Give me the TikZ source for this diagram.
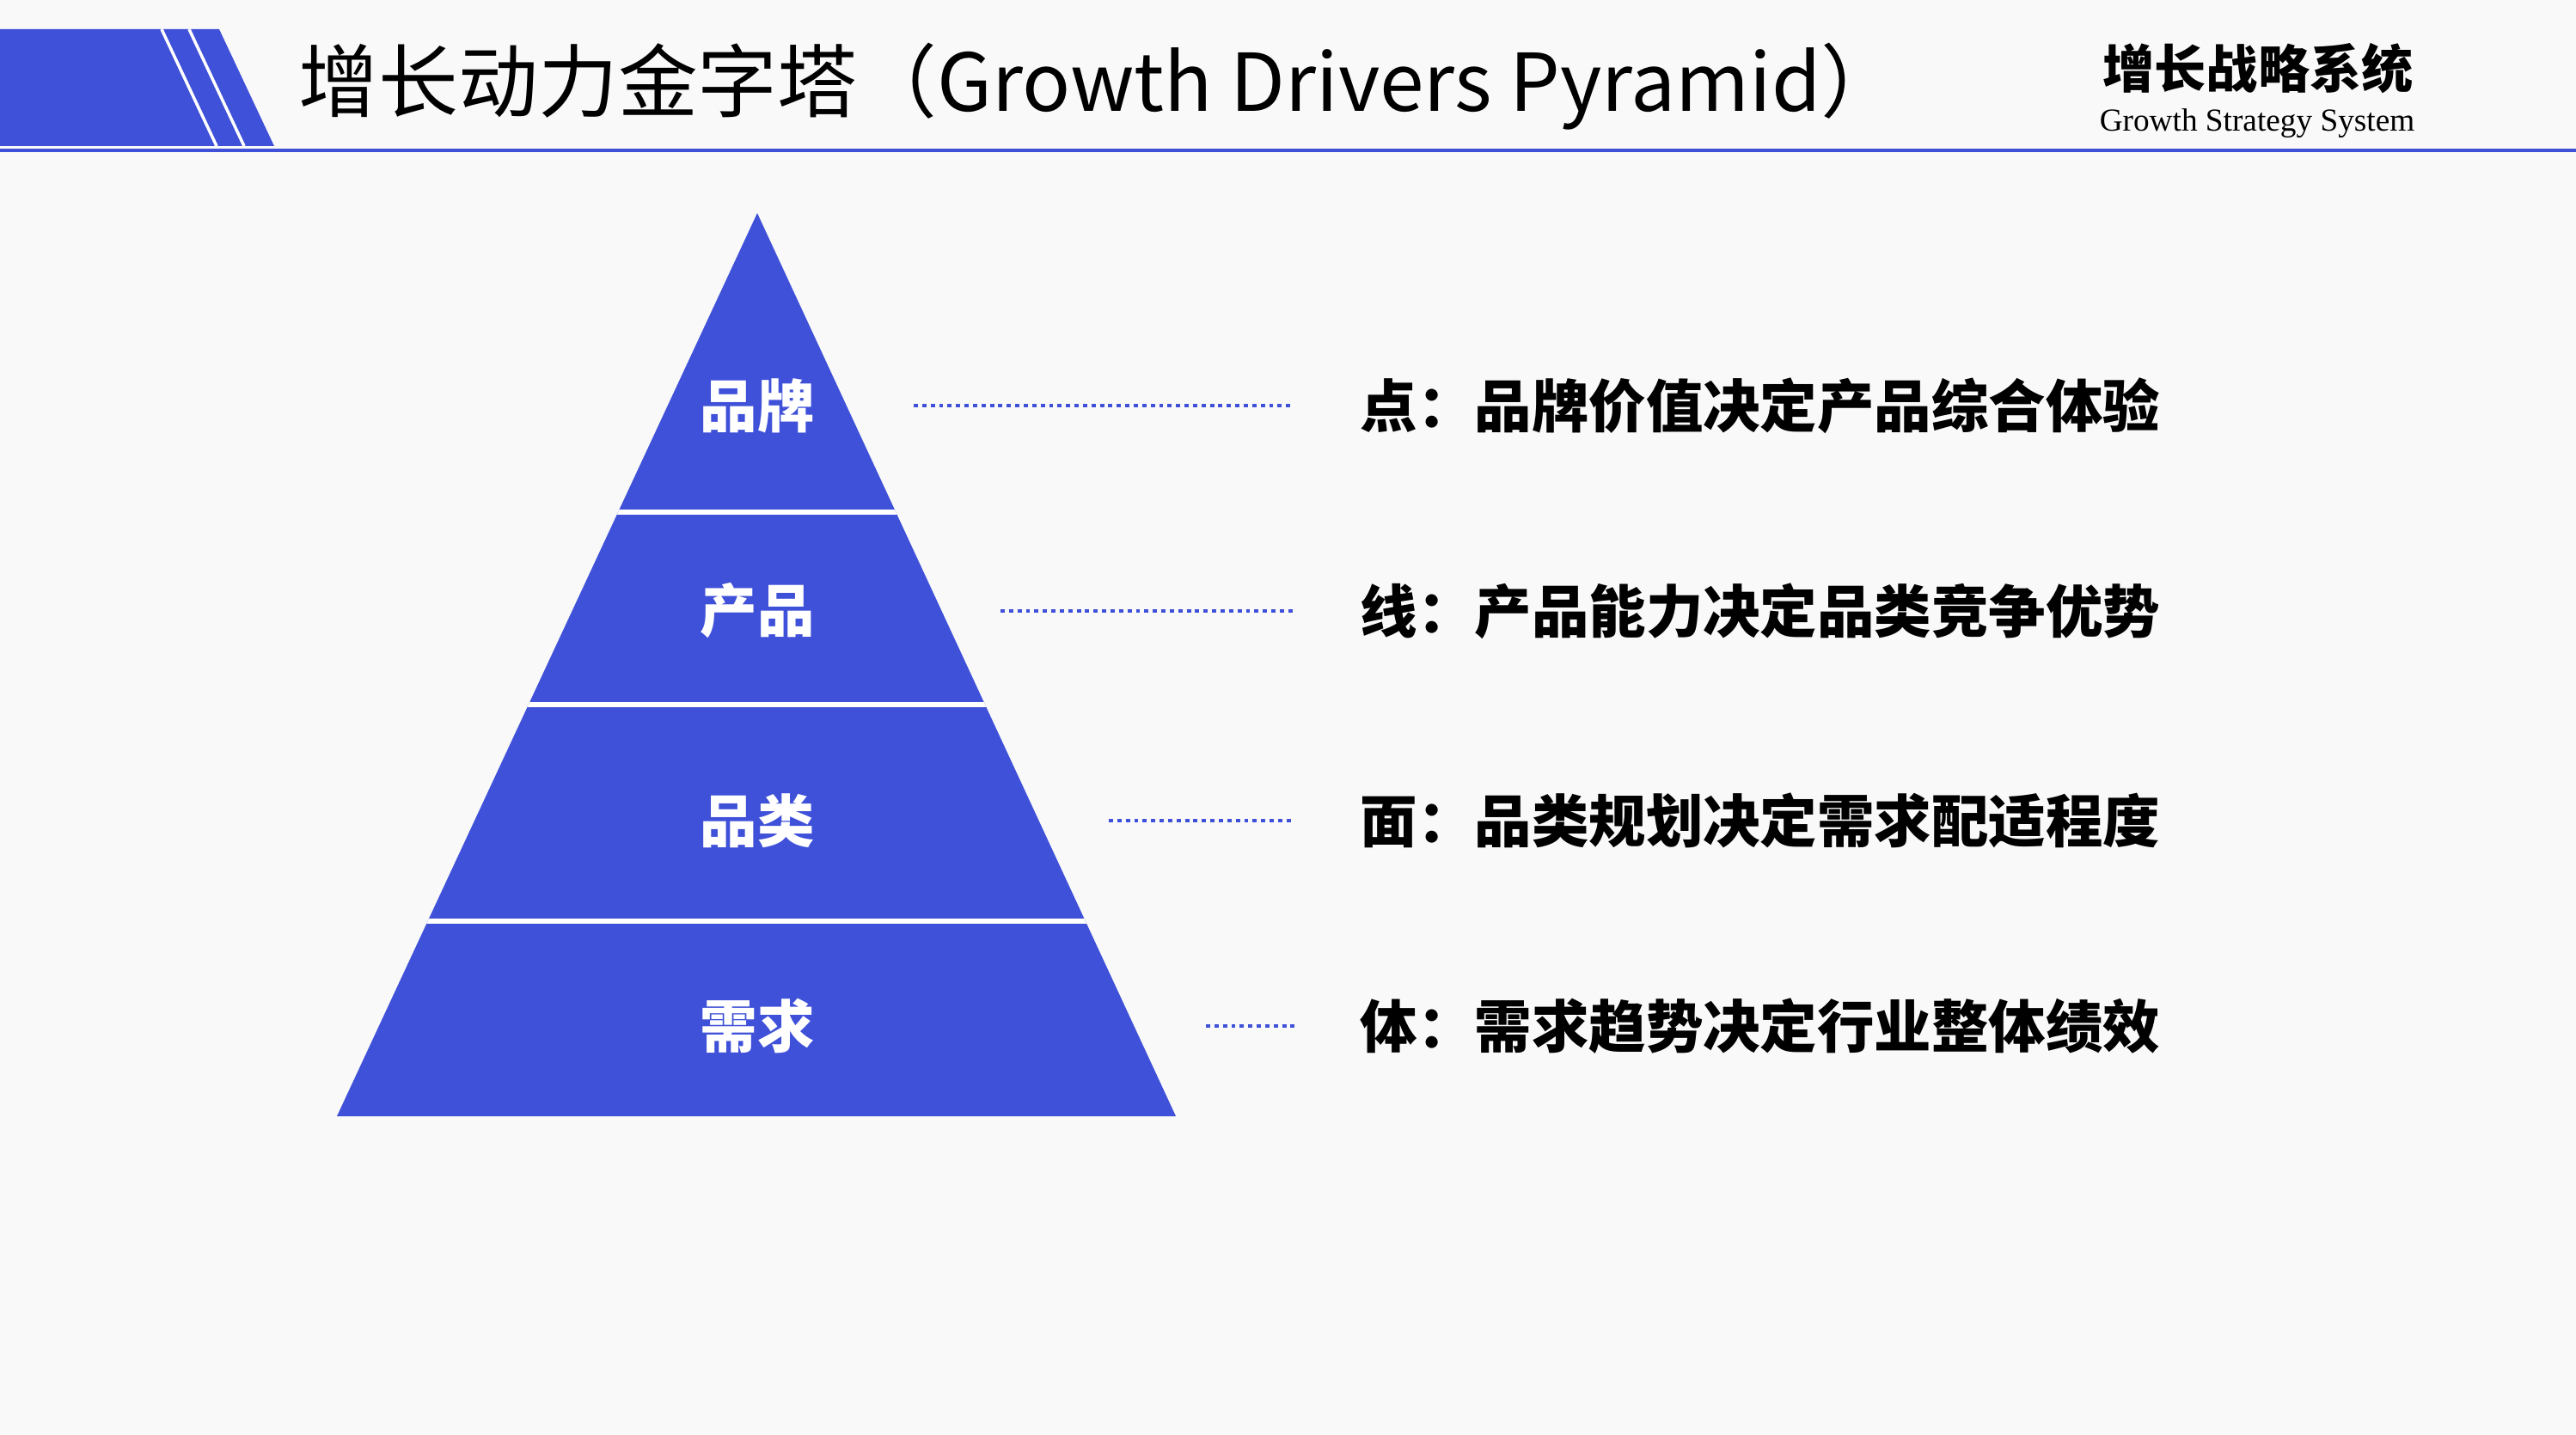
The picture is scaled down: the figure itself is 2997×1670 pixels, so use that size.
\documentclass[tikz,border=0pt]{standalone}
\usepackage{fontspec}
\setmainfont{Liberation Serif}
\newfontfamily\cjk{Noto Sans CJK SC}
\definecolor{pblue}{RGB}{63,81,216}
\definecolor{bg}{RGB}{249,249,249}
\begin{document}
\begin{tikzpicture}[x=0.01cm, y=-0.01cm, line join=round]
	\tikzset{lab/.style={font=\cjk\bfseries\fontsize{18.9}{21}\selectfont, text=white, inner sep=0pt},
		desc/.style={font=\cjk\bfseries\fontsize{18.9}{21}\selectfont, anchor=west, inner sep=0pt},
		dotline/.style={pblue, line width=1pt, dash pattern=on 1.4pt off 1.4pt}}
	\fill[bg] (0,0) rectangle (2997,1670);
	\useasboundingbox (0,0) rectangle (2997,1670);
	% header
	\fill[pblue] (0,34)--(255,34)--(319,170)--(0,170)--cycle;
	\foreach \x in {188,220} \draw[white, line width=1pt] (\x,34)--++(64,136);
	\draw[pblue, line width=1.1pt] (0,175)--(2997,175);
	\node[anchor=west, inner sep=0pt, font=\cjk\fontsize{26.4}{29}\selectfont] (title) at (347,101) {增长动力金字塔（Growth Drivers Pyramid）};
	\node[inner sep=0pt, font=\cjk\bfseries\fontsize{17.1}{19}\selectfont] (sys) at (2627,80) {增长战略系统};
	\node[inner sep=0pt, font=\fontsize{10.6}{12}\selectfont] (sysen) at (2626,144) {Growth Strategy System};
	% pyramid
	\fill[pblue] (881,248)--(1368,1299)--(392,1299)--cycle;
	\begin{scope}
		\clip (881,248)--(1368,1299)--(392,1299)--cycle;
		\foreach \y in {596,820,1072} \draw[white, line width=1.7pt] (300,\y)--(1400,\y);
	\end{scope}
	\foreach \i/\y/\xs/\a/\b in {1/472/1063/品牌/点：品牌价值决定产品综合体验, 2/711/1164/产品/线：产品能力决定品类竞争优势, 3/955/1290/品类/面：品类规划决定需求配适程度, 4/1194/1403/需求/体：需求趋势决定行业整体绩效} {
		\node[lab] (l\i) at (881,\y) {\a};
		\node[desc] (d\i) at (1582,\y) {\b};
		\coordinate (s\i) at (\xs,\y);
		\draw[dotline, shorten >=0.76cm] (s\i)--(d\i.west);
	}
\end{tikzpicture}
\end{document}
